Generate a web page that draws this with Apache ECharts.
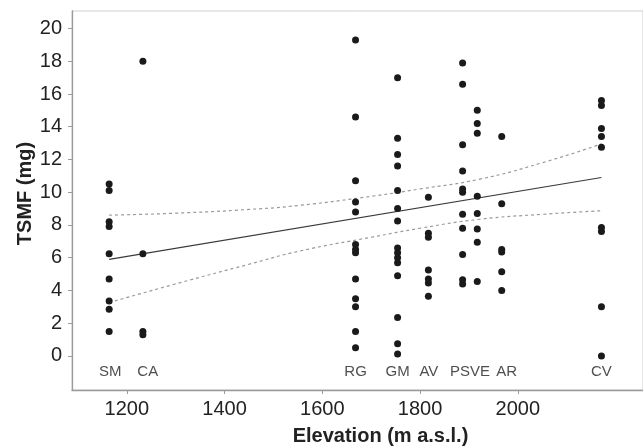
<!DOCTYPE html>
<html>
<head>
<meta charset="utf-8">
<script src="https://cdn.jsdelivr.net/npm/echarts@6/dist/echarts.min.js"></script>
<style>html,body{margin:0;padding:0;background:#fff}#c{width:643px;height:446px}</style>
</head>
<body>
<div id="c"></div>
<script>
// Sites and their elevations (m a.s.l.)
const siteNames = ["SM", "CA", "RG", "GM", "AV", "PS", "VE", "AR", "CV"];
const siteElev  = [1164, 1233, 1668, 1754, 1817, 1887, 1917, 1967, 2171];
// TSMF (mg) per site
const tsmfSM = [10.5, 10.1, 8.2, 7.9, 6.25, 4.7, 3.35, 2.85, 1.5];
const tsmfCA = [18.0, 6.25, 1.5, 1.3];
const tsmfRG = [19.3, 14.6, 10.7, 9.4, 8.8, 6.8, 6.5, 6.3, 4.7, 3.5, 3.0, 1.5, 0.5];
const tsmfGM = [17.0, 13.3, 12.3, 11.6, 10.1, 9.0, 8.25, 6.6, 6.3, 6.0, 5.7, 4.9, 2.35, 0.75, 0.12];
const tsmfAV = [9.7, 7.5, 7.25, 5.25, 4.7, 4.45, 3.65];
const tsmfPS = [17.9, 16.6, 12.9, 11.3, 10.2, 10.0, 8.65, 7.8, 6.2, 4.65, 4.4];
const tsmfVE = [15.0, 14.2, 13.6, 9.75, 8.7, 7.75, 6.95, 4.55];
const tsmfAR = [13.4, 9.3, 6.5, 6.35, 5.15, 4.0];
const tsmfCV = [15.6, 15.3, 13.9, 13.4, 12.75, 7.85, 7.6, 3.0, 0.0];
const siteValues = [tsmfSM, tsmfCA, tsmfRG, tsmfGM, tsmfAV, tsmfPS, tsmfVE, tsmfAR, tsmfCV];

// Site labels shown along the bottom of the panel
const labelNames = ["SM", "CA", "RG", "GM", "AV", "PSVE", "AR", "CV"];
const labelElev  = [1166, 1243, 1668, 1754, 1818, 1902, 1977, 2171];
const labelY = -0.95;

// Fitted regression line and confidence band
const fitX = [1164, 2171];
const fitY = [5.9, 10.9];
const bandX     = [1164, 1300, 1450, 1554, 1700, 1800, 1922, 2050, 2171];
const bandUpper = [8.6, 8.72, 8.95, 9.2, 9.75, 10.2, 10.8, 11.8, 12.95];
const bandLower = [3.26, 4.4, 5.6, 6.41, 7.25, 7.8, 8.35, 8.65, 8.87];

// Axes ticks
const xTicks = [1200, 1400, 1600, 1800, 2000];
const yTicks = [0, 2, 4, 6, 8, 10, 12, 14, 16, 18, 20];

const points = [];
siteValues.forEach((vals, i) => vals.forEach(v => points.push([siteElev[i], v])));

const font = "Liberation Sans, Arial, Helvetica, sans-serif";
const chart = echarts.init(document.getElementById('c'), null, {renderer: 'canvas'});
chart.setOption({
  animation: false,
  backgroundColor: '#fff',
  grid: {left: 72, right: 0, top: 11, bottom: 56, show: true, borderColor: '#cfcfcf', borderWidth: 1,
         containLabel: false, outerBoundsMode: 'none'},
  xAxis: {
    type: 'value', min: 1088, max: 2256,
    name: 'Elevation (m a.s.l.)', nameLocation: 'middle', nameGap: 36, nameMoveOverlap: false,
    nameTextStyle: {fontFamily: font, fontWeight: 'bold', fontSize: 20, color: '#222', padding: [0, 0, 0, 46]},
    axisLine: {show: true, onZero: false, lineStyle: {color: '#9a9a9a', width: 1.3}},
    axisTick: {show: true, length: 4, lineStyle: {color: '#9a9a9a'}, customValues: xTicks},
    axisLabel: {fontFamily: font, fontSize: 20, color: '#222', margin: 9, customValues: xTicks, formatter: v => String(v)},
    splitLine: {show: false}
  },
  yAxis: {
    type: 'value', min: -2.08, max: 21.07,
    name: 'TSMF (mg)', nameLocation: 'middle', nameGap: 37, nameMoveOverlap: false,
    nameTextStyle: {fontFamily: font, fontWeight: 'bold', fontSize: 20, color: '#222', padding: [0, 0, 0, 14]},
    axisLine: {show: true, onZero: false, lineStyle: {color: '#9a9a9a', width: 1.3}},
    axisTick: {show: true, length: 4, lineStyle: {color: '#9a9a9a'}, customValues: yTicks},
    axisLabel: {fontFamily: font, fontSize: 20, color: '#222', margin: 10, customValues: yTicks, formatter: v => String(v)},
    splitLine: {show: false}
  },
  series: [
    {
      type: 'line', data: bandX.map((x, i) => [x, bandUpper[i]]), smooth: true, symbol: 'none',
      lineStyle: {color: '#9a9a9a', width: 1.2, type: [3, 3]}, z: 2
    },
    {
      type: 'line', data: bandX.map((x, i) => [x, bandLower[i]]), smooth: true, symbol: 'none',
      lineStyle: {color: '#9a9a9a', width: 1.2, type: [3, 3]}, z: 2
    },
    {
      type: 'line', data: fitX.map((x, i) => [x, fitY[i]]), symbol: 'none',
      lineStyle: {color: '#3a3a3a', width: 1.1}, z: 2
    },
    {
      type: 'scatter', data: points, symbol: 'circle', symbolSize: 7,
      itemStyle: {color: '#1a1a1a', opacity: 1}, z: 3
    },
    {
      type: 'scatter', symbolSize: 0, silent: true,
      data: labelNames.map((n, i) => ({value: [labelElev[i], labelY], name: n})),
      label: {show: true, position: 'inside', formatter: p => p.name, fontFamily: font, fontSize: 15, color: '#222'},
      z: 4
    }
  ]
});
</script>
</body>
</html>
